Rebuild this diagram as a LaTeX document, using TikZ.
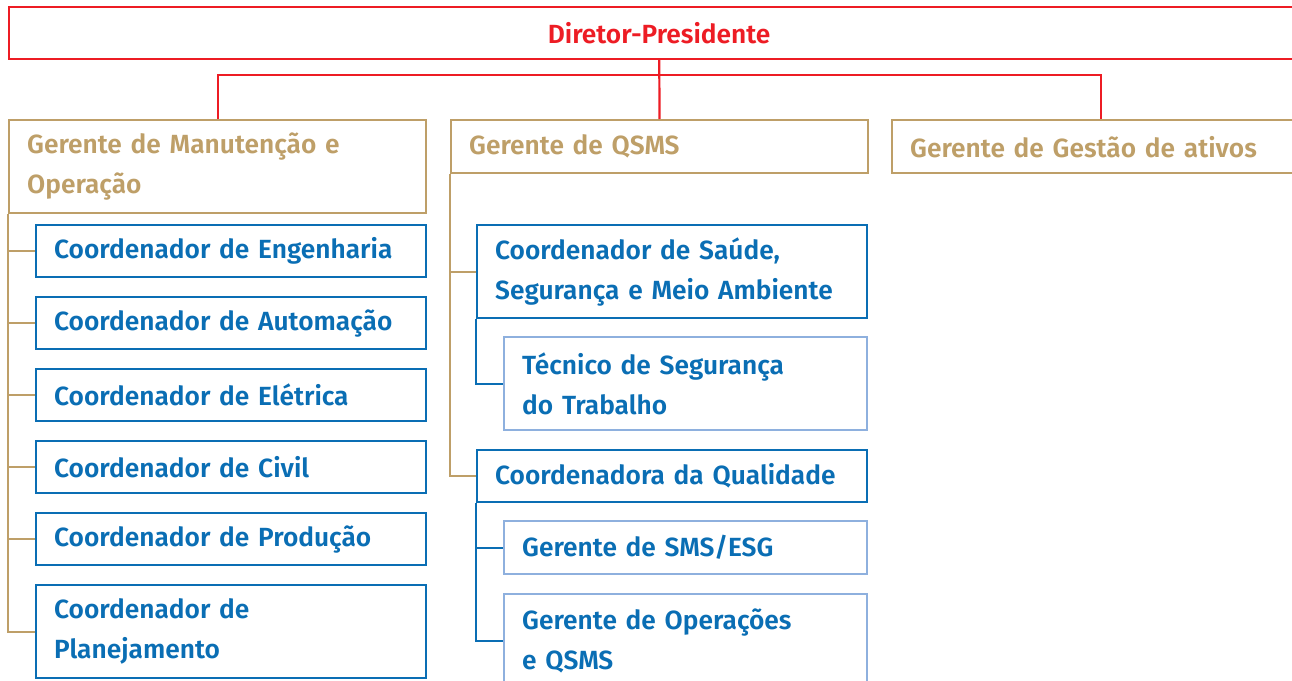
\documentclass[tikz,border=0pt]{standalone}
\usepackage{fontspec}
\setmainfont{Fira Sans SemiBold}
\definecolor{dred}{HTML}{ED1C24}
\definecolor{gold}{HTML}{BE9F68}
\definecolor{cblue}{HTML}{0A6EB4}
\definecolor{lblue}{HTML}{8EB0DE}
\begin{document}
\begin{tikzpicture}[x=1pt,y=-1pt,
    box/.style={draw,line width=2.4pt,anchor=north west,align=left,inner xsep=18pt,inner ysep=0pt,font=\fontsize{26.3}{40}\selectfont},
    gbox/.style={box,draw=gold,text=gold,text width=381pt,minimum height=53pt},
    cbox/.style={box,draw=cblue,text=cblue,text width=354pt,minimum height=52pt},
    sbox/.style={box,draw=lblue,text=cblue,text width=327pt,minimum height=53pt},
    tall/.style={minimum height=93pt},
    rline/.style={dred,line width=2.2pt},
    gline/.style={gold,line width=2.4pt},
    bline/.style={cblue,line width=2.4pt}]
    \useasboundingbox (0,0) rectangle (1292,680);
    \clip (0,0) rectangle (1292,680);

    \node[box,draw=dred,text=dred,line width=2.2pt,align=center,minimum width=1300pt,minimum height=52pt] (dir) at (8,6) {Diretor-Presidente};

    \node[gbox,tall] (gman) at (8,119) {Gerente de Manutenção e\\Operação};
    \node[gbox] (gqs) at (450,119) {Gerente de QSMS};
    \node[gbox] (gges) at (891,119) {Gerente de Gestão de ativos};

    \node[cbox] (c1) at (35,224) {Coordenador de Engenharia};
    \node[cbox] (c2) at (35,296) {Coordenador de Automação};
    \node[cbox] (c3) at (35,368) {Coordenador de Elétrica};
    \node[cbox] (c4) at (35,440) {Coordenador de Civil};
    \node[cbox] (c5) at (35,512) {Coordenador de Produção};
    \node[cbox,tall] (c6) at (35,584) {Coordenador de\\Planejamento};

    \node[cbox,tall] (sau) at (476,224) {Coordenador de Saúde,\\Segurança e Meio Ambiente};
    \node[sbox,tall] (tec) at (503,336) {Técnico de Segurança\\do Trabalho};
    \node[cbox] (qual) at (476,449) {Coordenadora da Qualidade};
    \node[sbox] (sms) at (503,520) {Gerente de SMS/ESG};
    \node[sbox,tall] (oper) at (503,593) {Gerente de Operações\\e QSMS};

    \coordinate (bar) at (658,75);
    \draw[rline] (dir) -- (gqs);
    \draw[rline] (gman.north) |- (bar) -| (gges.north);

    \draw[gline] (gman.south west) |- (c6.west);
    \foreach \n in {c1,c2,c3,c4,c5}
        \draw[gline] (gman.south west |- \n.west) -- (\n.west);
    \draw[gline] (gqs.south west) |- (qual.west);
    \draw[gline] (gqs.south west |- sau.west) -- (sau.west);

    \draw[bline] (sau.south west) |- (tec.west);
    \draw[bline] (qual.south west) |- (oper.west);
    \draw[bline] (qual.south west |- sms.west) -- (sms.west);
\end{tikzpicture}
\end{document}
